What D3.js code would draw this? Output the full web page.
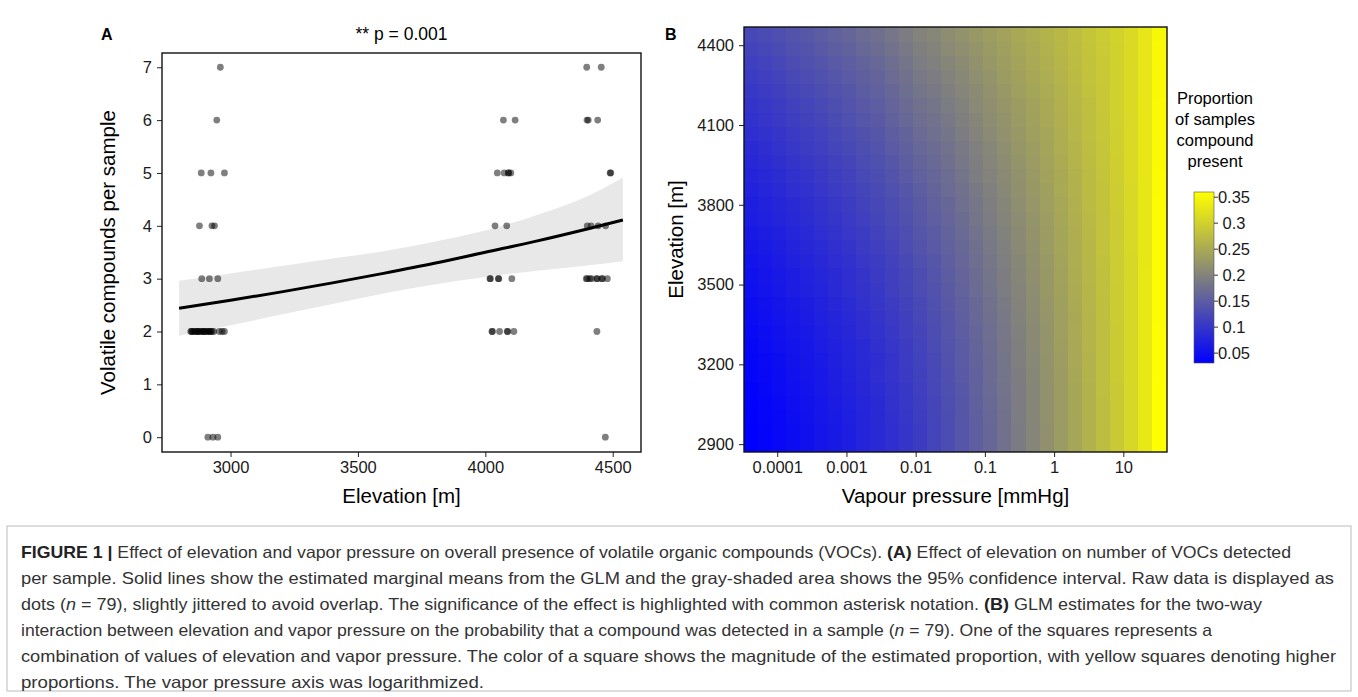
<!DOCTYPE html>
<html>
<head>
<meta charset="utf-8">
<script src="https://cdn.jsdelivr.net/npm/d3@7"></script>
<style>
  body { margin: 0; background: #fff; }
  svg { font-family: "Liberation Sans", Arial, sans-serif; }
  .tick text { fill: #1a1a1a; }
  .cap { font-family: "Liberation Sans Narrow", "Arial Narrow", "Liberation Sans", sans-serif; fill: #333; }
</style>
</head>
<body>
<svg id="fig" width="1358" height="697"></svg>
<script>
// PANEL A: raw counts per sample (jittered elevation, count)
const ptElev = [
  2960, 2946, 2885, 2923, 2976, 2878, 2927, 2937, 2887, 2917, 2950,
  2844, 2847, 2850, 2856, 2862, 2868, 2871, 2874, 2880, 2886, 2892, 2895,
  2898, 2904, 2910, 2916, 2919, 2922, 2928, 2934, 2956, 2967, 2976,
  2911, 2931, 2950,
  4071, 4117, 4047, 4074, 4090, 4092, 4100, 4038, 4084,
  4018, 4020, 4051, 4053, 4104, 4026, 4028, 4056, 4086, 4088, 4112,
  4398, 4455, 4399, 4404, 4441, 4490, 4492, 4400, 4415, 4443, 4472,
  4396, 4400, 4410, 4417, 4437, 4439, 4457, 4460, 4479, 4438, 4471
];
const ptCount = [
  7, 6, 5, 5, 5, 4, 4, 4, 3, 3, 3,
  2, 2, 2, 2, 2, 2, 2, 2, 2, 2, 2, 2,
  2, 2, 2, 2, 2, 2, 2, 2, 2, 2, 2,
  0, 0, 0,
  6, 6, 5, 5, 5, 5, 5, 4, 4,
  3, 3, 3, 3, 3, 2, 2, 2, 2, 2, 2,
  7, 7, 6, 6, 6, 5, 5, 4, 4, 4, 4,
  3, 3, 3, 3, 3, 3, 3, 3, 3, 2, 0
];

// GLM marginal means and 95% CI
const fitElev  = [2798, 3000, 3200, 3400, 3600, 3800, 4000, 4200, 4400, 4540];
const fitMean  = [2.44, 2.59, 2.75, 2.92, 3.10, 3.29, 3.50, 3.71, 3.94, 4.11];
const fitLower = [1.92, 2.12, 2.32, 2.52, 2.72, 2.89, 3.03, 3.15, 3.25, 3.33];
const fitUpper = [2.96, 3.10, 3.24, 3.38, 3.52, 3.70, 3.91, 4.20, 4.56, 4.91];

const elevTicksA = [3000, 3500, 4000, 4500];
const countTicks = [0, 1, 2, 3, 4, 5, 6, 7];

// PANEL B: estimated proportion, rows = elevation (low -> high), cols = log10 vapour pressure
const vpLog = [-4.378, -4.174, -3.971, -3.767, -3.563, -3.360, -3.156, -2.952, -2.748, -2.545,
  -2.341, -2.137, -1.934, -1.730, -1.526, -1.323, -1.119, -0.915, -0.711, -0.508,
  -0.304, -0.100, 0.103, 0.307, 0.511, 0.714, 0.918, 1.122, 1.326, 1.529];
const elevRows = [2897, 2950, 3003, 3057, 3110, 3163, 3216, 3270, 3323, 3376,
  3430, 3483, 3536, 3589, 3643, 3696, 3749, 3802, 3856, 3909,
  3962, 4015, 4069, 4122, 4175, 4229, 4282, 4335, 4388, 4442];
const propGrid = [
  [.031,.036,.041,.047,.052,.058,.064,.070,.077,.084,.092,.100,.109,.119,.130,.141,.153,.165,.177,.190,.203,.217,.231,.245,.260,.275,.291,.308,.330,.360],
  [.031,.036,.041,.047,.052,.058,.064,.070,.077,.084,.092,.100,.109,.119,.130,.141,.153,.165,.177,.190,.203,.217,.231,.245,.260,.275,.291,.308,.330,.360],
  [.032,.037,.042,.048,.053,.059,.065,.071,.078,.085,.093,.101,.110,.120,.131,.142,.154,.166,.178,.191,.204,.218,.232,.245,.260,.275,.291,.308,.330,.360],
  [.033,.038,.043,.049,.054,.060,.066,.072,.079,.086,.094,.102,.111,.121,.132,.143,.155,.167,.179,.192,.204,.218,.232,.246,.261,.275,.291,.308,.330,.360],
  [.035,.040,.045,.051,.056,.062,.068,.074,.081,.088,.096,.104,.113,.123,.133,.144,.156,.168,.180,.192,.205,.219,.233,.246,.261,.276,.291,.308,.330,.360],
  [.037,.042,.047,.053,.058,.064,.070,.076,.083,.090,.098,.106,.115,.124,.135,.146,.157,.169,.181,.193,.206,.220,.233,.247,.262,.276,.292,.308,.330,.359],
  [.038,.043,.048,.054,.059,.065,.071,.077,.084,.091,.099,.107,.116,.126,.137,.147,.159,.171,.182,.195,.207,.221,.234,.248,.262,.276,.292,.308,.330,.359],
  [.040,.045,.050,.056,.061,.067,.073,.079,.086,.093,.101,.109,.118,.128,.139,.149,.161,.172,.184,.196,.208,.222,.235,.248,.263,.277,.292,.309,.330,.359],
  [.043,.048,.053,.059,.064,.070,.076,.082,.089,.096,.104,.112,.121,.130,.141,.151,.162,.174,.185,.197,.210,.223,.236,.249,.263,.277,.292,.309,.330,.359],
  [.045,.050,.055,.061,.066,.072,.078,.084,.091,.098,.106,.114,.123,.132,.143,.153,.164,.176,.187,.199,.211,.224,.237,.250,.264,.278,.293,.309,.330,.358],
  [.048,.053,.058,.064,.069,.075,.081,.087,.094,.101,.109,.117,.126,.135,.145,.155,.166,.178,.189,.201,.212,.225,.238,.251,.265,.278,.293,.309,.330,.358],
  [.051,.056,.061,.067,.072,.078,.084,.090,.097,.104,.112,.120,.129,.137,.148,.158,.169,.180,.191,.202,.214,.227,.239,.252,.265,.279,.293,.309,.330,.358],
  [.053,.058,.063,.069,.074,.080,.086,.092,.099,.106,.114,.122,.131,.140,.150,.160,.171,.182,.193,.204,.216,.228,.240,.253,.266,.279,.294,.309,.330,.358],
  [.056,.061,.066,.072,.077,.083,.089,.095,.102,.109,.117,.125,.134,.143,.153,.163,.174,.184,.195,.206,.217,.229,.242,.254,.267,.280,.294,.309,.329,.357],
  [.060,.065,.070,.076,.081,.087,.093,.099,.106,.113,.121,.129,.138,.146,.156,.166,.176,.187,.197,.208,.219,.231,.243,.255,.268,.281,.294,.310,.329,.357],
  [.063,.068,.073,.079,.084,.090,.096,.102,.109,.116,.124,.132,.141,.149,.159,.168,.179,.189,.199,.210,.221,.233,.244,.256,.269,.281,.295,.310,.329,.357],
  [.067,.072,.077,.083,.088,.094,.100,.106,.113,.120,.128,.136,.145,.153,.162,.171,.182,.192,.202,.212,.223,.234,.246,.257,.270,.282,.295,.310,.329,.356],
  [.070,.075,.080,.086,.091,.097,.103,.109,.116,.123,.131,.139,.148,.156,.165,.175,.184,.194,.204,.215,.225,.236,.247,.259,.271,.283,.296,.310,.329,.356],
  [.074,.079,.084,.090,.095,.101,.107,.113,.120,.127,.135,.143,.152,.160,.169,.178,.188,.197,.207,.217,.227,.238,.249,.260,.272,.283,.296,.310,.329,.355],
  [.078,.083,.088,.094,.099,.105,.111,.117,.124,.131,.139,.147,.156,.163,.172,.181,.191,.200,.210,.219,.229,.240,.250,.261,.273,.284,.297,.311,.329,.355],
  [.082,.087,.092,.098,.103,.109,.115,.121,.128,.135,.143,.151,.160,.167,.176,.185,.194,.203,.212,.222,.232,.242,.252,.263,.274,.285,.297,.311,.329,.354],
  [.086,.091,.096,.102,.107,.113,.119,.125,.132,.139,.147,.155,.164,.171,.179,.188,.197,.206,.215,.225,.234,.244,.254,.264,.275,.286,.298,.311,.329,.354],
  [.090,.095,.100,.106,.111,.117,.123,.129,.136,.143,.151,.159,.168,.175,.183,.192,.201,.209,.218,.227,.236,.246,.255,.266,.276,.287,.298,.311,.329,.354],
  [.095,.100,.105,.111,.116,.122,.128,.134,.141,.148,.156,.164,.173,.179,.187,.196,.204,.213,.221,.230,.239,.248,.257,.267,.277,.287,.299,.311,.329,.353],
  [.099,.104,.109,.115,.120,.126,.132,.138,.145,.152,.160,.168,.177,.183,.191,.199,.208,.216,.224,.233,.241,.250,.259,.269,.278,.288,.299,.312,.329,.353],
  [.104,.109,.114,.120,.125,.131,.137,.143,.150,.157,.165,.173,.182,.188,.195,.203,.211,.219,.227,.236,.244,.252,.261,.270,.280,.289,.300,.312,.328,.352],
  [.108,.113,.118,.124,.129,.135,.141,.147,.154,.161,.169,.177,.186,.192,.200,.207,.215,.223,.231,.239,.247,.255,.263,.272,.281,.290,.300,.312,.328,.352],
  [.113,.118,.123,.129,.134,.140,.146,.152,.159,.166,.174,.182,.191,.197,.204,.211,.219,.227,.234,.242,.249,.257,.265,.274,.282,.291,.301,.312,.328,.351],
  [.118,.123,.128,.134,.139,.145,.151,.157,.164,.171,.179,.187,.196,.201,.209,.216,.223,.230,.238,.245,.252,.260,.267,.275,.284,.292,.301,.313,.328,.351],
  [.123,.128,.133,.139,.144,.150,.156,.162,.169,.176,.184,.192,.201,.206,.213,.220,.227,.234,.241,.248,.255,.262,.269,.277,.285,.293,.302,.313,.328,.350]
];
const vpTicks = [-4, -3, -2, -1, 0, 1];
const vpTickLabels = ["0.0001", "0.001", "0.01", "0.1", "1", "10"];
const elevTicksB = [2900, 3200, 3500, 3800, 4100, 4400];
const legendTicks = [0.05, 0.1, 0.15, 0.2, 0.25, 0.3, 0.35];

const captionLines = [
  [["b", "FIGURE 1 | "], ["", "Effect of elevation and vapor pressure on overall presence of volatile organic compounds (VOCs). "], ["b", "(A)"], ["", " Effect of elevation on number of VOCs detected"]],
  [["", "per sample. Solid lines show the estimated marginal means from the GLM and the gray-shaded area shows the 95% confidence interval. Raw data is displayed as"]],
  [["", "dots ("], ["i", "n"], ["", " = 79), slightly jittered to avoid overlap. The significance of the effect is highlighted with common asterisk notation. "], ["b", "(B)"], ["", " GLM estimates for the two-way"]],
  [["", "interaction between elevation and vapor pressure on the probability that a compound was detected in a sample ("], ["i", "n"], ["", " = 79). One of the squares represents a"]],
  [["", "combination of values of elevation and vapor pressure. The color of a square shows the magnitude of the estimated proportion, with yellow squares denoting higher"]],
  [["", "proportions. The vapor pressure axis was logarithmized."]]
];
const captionWidths = [1270, 1313, 1241, 1191, 1315, 463];

const svg = d3.select("#fig");
svg.append("rect").attr("width", 1358).attr("height", 697).attr("fill", "#fff");

// ---------------- PANEL A ----------------
const mA = { left: 162, top: 53, width: 479, height: 399 };
const gA = svg.append("g").attr("transform", `translate(${mA.left},${mA.top})`);

const xA = d3.scaleLinear().domain([2731, 4611]).range([0, mA.width]);
const yA = d3.scaleLinear().domain([-0.28, 7.27]).range([mA.height, 0]);

const fitData = fitElev.map((e, i) => ({ e: e, m: fitMean[i], lo: fitLower[i], hi: fitUpper[i] }));

gA.append("path")
  .datum(fitData)
  .attr("fill", "#e8e8e8")
  .attr("d", d3.area().curve(d3.curveMonotoneX).x(d => xA(d.e)).y0(d => yA(d.lo)).y1(d => yA(d.hi)));

gA.selectAll(".pt")
  .data(ptElev.map((e, i) => ({ e: e, c: ptCount[i] })))
  .enter().append("circle")
  .attr("class", "pt")
  .attr("cx", d => xA(d.e))
  .attr("cy", d => yA(d.c))
  .attr("r", 3.4)
  .attr("fill", "#000")
  .attr("fill-opacity", 0.5);

gA.append("path")
  .datum(fitData)
  .attr("fill", "none")
  .attr("stroke", "#000")
  .attr("stroke-width", 3)
  .attr("d", d3.line().curve(d3.curveMonotoneX).x(d => xA(d.e)).y(d => yA(d.m)));

const axA_x = gA.append("g")
  .attr("transform", `translate(0,${mA.height})`)
  .call(d3.axisBottom(xA).tickValues(elevTicksA).tickFormat(d3.format("d")).tickSize(5).tickPadding(4));
const axA_y = gA.append("g")
  .call(d3.axisLeft(yA).tickValues(countTicks).tickFormat(d3.format("d")).tickSize(5).tickPadding(5));
[axA_x, axA_y].forEach(a => {
  a.select(".domain").remove();
  a.selectAll("text").style("font-size", "16.5px").style("font-family", "Liberation Sans, Arial, sans-serif");
  a.selectAll("line").attr("stroke", "#222");
});

gA.append("rect")
  .attr("width", mA.width).attr("height", mA.height)
  .attr("fill", "none").attr("stroke", "#111").attr("stroke-width", 1.4);

svg.append("text").attr("x", 101).attr("y", 40)
  .style("font-size", "16px").style("font-weight", "bold").text("A");
svg.append("text").attr("x", mA.left + mA.width / 2).attr("y", 40)
  .attr("text-anchor", "middle").style("font-size", "17.5px").text("** p = 0.001");
svg.append("text").attr("x", mA.left + mA.width / 2).attr("y", 503)
  .attr("text-anchor", "middle").style("font-size", "20.5px").text("Elevation [m]");
svg.append("text")
  .attr("transform", `translate(115,${mA.top + mA.height / 2}) rotate(-90)`)
  .attr("text-anchor", "middle").style("font-size", "20.5px").text("Volatile compounds per sample");

// ---------------- PANEL B ----------------
const mB = { left: 744, top: 27, width: 423, height: 425 };
const gB = svg.append("g").attr("transform", `translate(${mB.left},${mB.top})`);

const vpStep = vpLog[1] - vpLog[0];
const elStep = elevRows[1] - elevRows[0];
const xB = d3.scaleLinear().domain([vpLog[0] - vpStep / 2, vpLog[vpLog.length - 1] + vpStep / 2]).range([0, mB.width]);
const yB = d3.scaleLinear().domain([elevRows[0] - elStep / 2, elevRows[elevRows.length - 1] + elStep / 2]).range([mB.height, 0]);

const ext = d3.extent(propGrid.flat());
const color = d3.scaleLinear()
  .domain([ext[0], (ext[0] + ext[1]) / 2, ext[1]])
  .range(["#0000ff", "#7f7f7f", "#ffff00"])
  .interpolate(d3.interpolateRgb);

const cells = [];
propGrid.forEach((row, r) => row.forEach((v, c) => cells.push({ r: r, c: c, v: v })));

// draw each tile slightly oversized so neighbouring tiles do not leave seams
gB.selectAll(".cell")
  .data(cells)
  .enter().append("rect")
  .attr("class", "cell")
  .attr("shape-rendering", "crispEdges")
  .attr("x", d => Math.floor(xB(vpLog[d.c] - vpStep / 2)))
  .attr("y", d => Math.floor(yB(elevRows[d.r] + elStep / 2)))
  .attr("width", d => Math.ceil(xB(vpLog[d.c] + vpStep / 2)) - Math.floor(xB(vpLog[d.c] - vpStep / 2)))
  .attr("height", d => Math.ceil(yB(elevRows[d.r] - elStep / 2)) - Math.floor(yB(elevRows[d.r] + elStep / 2)))
  .attr("fill", d => color(d.v));

const axB_x = gB.append("g")
  .attr("transform", `translate(0,${mB.height})`)
  .call(d3.axisBottom(xB).tickValues(vpTicks).tickFormat((d, i) => vpTickLabels[i]).tickSize(5).tickPadding(4));
const axB_y = gB.append("g")
  .call(d3.axisLeft(yB).tickValues(elevTicksB).tickFormat(d3.format("d")).tickSize(5).tickPadding(5));
[axB_x, axB_y].forEach(a => {
  a.select(".domain").remove();
  a.selectAll("text").style("font-size", "16.5px").style("font-family", "Liberation Sans, Arial, sans-serif");
  a.selectAll("line").attr("stroke", "#222");
});

gB.append("rect")
  .attr("width", mB.width).attr("height", mB.height)
  .attr("fill", "none").attr("stroke", "#111").attr("stroke-width", 1.4);

svg.append("text").attr("x", 665).attr("y", 40)
  .style("font-size", "16px").style("font-weight", "bold").text("B");
svg.append("text").attr("x", mB.left + mB.width / 2).attr("y", 503)
  .attr("text-anchor", "middle").style("font-size", "20.5px").text("Vapour pressure [mmHg]");
svg.append("text")
  .attr("transform", `translate(683,${mB.top + mB.height / 2}) rotate(-90)`)
  .attr("text-anchor", "middle").style("font-size", "20.5px").text("Elevation [m]");

// legend
["Proportion", "of samples", "compound", "present"].forEach((t, i) => {
  svg.append("text").attr("x", 1215).attr("y", 104 + i * 21)
    .attr("text-anchor", "middle").style("font-size", "16.5px").text(t);
});
const leg = { x: 1194, top: 192, w: 20, bottom: 363 };
const yL = d3.scaleLinear().domain(ext).range([leg.bottom, leg.top]);
const grad = svg.append("defs").append("linearGradient")
  .attr("id", "legGrad").attr("x1", 0).attr("y1", 1).attr("x2", 0).attr("y2", 0);
d3.range(0, 1.0001, 0.05).forEach(t => {
  grad.append("stop").attr("offset", t).attr("stop-color", color(ext[0] + t * (ext[1] - ext[0])));
});
svg.append("rect")
  .attr("x", leg.x).attr("y", leg.top).attr("width", leg.w).attr("height", leg.bottom - leg.top)
  .attr("fill", "url(#legGrad)").attr("stroke", "#555").attr("stroke-width", 0.6);
svg.selectAll(".legTick").data(legendTicks).enter().append("line")
  .attr("x1", leg.x + leg.w).attr("x2", leg.x + leg.w + 4)
  .attr("y1", d => yL(d)).attr("y2", d => yL(d))
  .attr("stroke", "#333").attr("stroke-width", 1);
svg.selectAll(".legLab").data(legendTicks).enter().append("text")
  .attr("x", 1234).attr("y", d => yL(d)).attr("dy", "0.35em")
  .attr("text-anchor", "middle").style("font-size", "16.5px").attr("fill", "#1a1a1a")
  .text(d => String(d));

// ---------------- CAPTION ----------------
svg.append("rect").attr("x", 7).attr("y", 526).attr("width", 1344).attr("height", 165)
  .attr("fill", "none").attr("stroke", "#bbb").attr("stroke-width", 1);

captionLines.forEach((parts, i) => {
  const t = svg.append("text").attr("class", "cap")
    .attr("x", 21).attr("y", 558 + i * 26).style("font-size", "16.5px");
  parts.forEach(p => {
    const s = t.append("tspan").text(p[1]);
    if (p[0] === "b") s.style("font-weight", "bold").attr("fill", "#222");
    if (p[0] === "i") s.style("font-style", "italic");
  });
  t.attr("textLength", captionWidths[i]).attr("lengthAdjust", "spacingAndGlyphs");
});
</script>
</body>
</html>
